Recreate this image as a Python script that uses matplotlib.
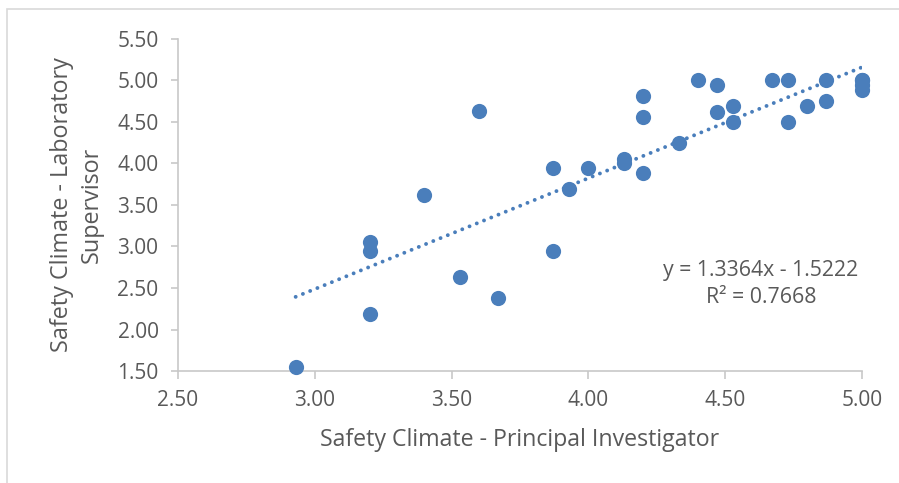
import numpy as np
import matplotlib.pyplot as plt
from matplotlib.patches import Rectangle

# Safety climate scores: principal investigator (x) vs laboratory supervisor (y)
pi_score = [2.93, 3.20, 3.20, 3.20, 3.40, 3.53, 3.60, 3.67, 3.87, 3.87,
            3.93, 4.00, 4.13, 4.13, 4.20, 4.20, 4.20, 4.33, 4.40, 4.47,
            4.47, 4.53, 4.53, 4.67, 4.73, 4.73, 4.80, 4.87, 4.87, 5.00,
            5.00, 5.00, 5.00]
ls_score = [1.55, 3.06, 2.94, 2.19, 3.62, 2.63, 4.63, 2.38, 3.94, 2.94,
            3.69, 3.94, 4.06, 4.00, 4.81, 4.56, 3.88, 4.25, 5.00, 4.94,
            4.62, 4.69, 4.50, 5.00, 5.00, 4.50, 4.69, 5.00, 4.75, 5.00,
            4.94, 4.88, 5.00]

# trendline from the chart label
slope = 1.3364
intercept = -1.5222
r2 = 0.7668

x_ticks = [2.50, 3.00, 3.50, 4.00, 4.50, 5.00]
y_ticks = [1.50, 2.00, 2.50, 3.00, 3.50, 4.00, 4.50, 5.00, 5.50]

txt = '#595959'
grey = '#c8c8c8'
blue = '#4a7ebb'
font = 'Open Sans'

fig = plt.figure(figsize=(8.99, 4.83), dpi=100)
fig.patches.append(Rectangle((7 / 899, -0.1), 2, 1.1 - 9 / 483, transform=fig.transFigure,
                             fill=False, edgecolor='#d9d9d9', linewidth=1.2))
ax = fig.add_axes([178 / 899, 1 - 371 / 483, 684 / 899, 332 / 483])

ax.scatter(pi_score, ls_score, s=120, color=blue, zorder=3, linewidths=0)

fit_x = np.array([min(pi_score), max(pi_score)])
fit_y = slope * fit_x + intercept
ax.plot(fit_x, fit_y, color=blue, linewidth=2.8, linestyle=(0, (0.01, 2.0)),
        dash_capstyle='round', zorder=2)

ax.set_xlim(2.5, 5.0)
ax.set_ylim(1.5, 5.5)
ax.set_xticks(x_ticks)
ax.set_yticks(y_ticks)
ax.set_xticklabels(['%.2f' % v for v in x_ticks])
ax.set_yticklabels(['%.2f' % v for v in y_ticks])

for s in ['top', 'right']:
    ax.spines[s].set_visible(False)
for s in ['left', 'bottom']:
    ax.spines[s].set_color(grey)
    ax.spines[s].set_linewidth(1.2)
    ax.spines[s].set_zorder(1)
ax.tick_params(axis='both', colors=grey, labelcolor=txt, labelsize=15, width=1.2)
ax.tick_params(axis='x', length=6, pad=8)
ax.tick_params(axis='y', length=5, pad=9)
for lab in ax.get_xticklabels() + ax.get_yticklabels():
    lab.set_fontfamily(font)
for c in ax.collections:
    c.set_clip_on(False)

ax.set_xlabel('Safety Climate - Principal Investigator', fontsize=16.7, color=txt,
              fontfamily=font, labelpad=12)
fig.text(77 / 899, 1 - 205 / 483, 'Safety Climate - Laboratory\nSupervisor',
         rotation=90, ha='center', va='center', fontsize=16.8, color=txt,
         fontfamily=font, linespacing=1.3, multialignment='center')

ax.text(4.631, 2.548, 'y = %.4fx - %.4f\nR² = %.4f' % (slope, -intercept, r2),
        ha='center', va='center', fontsize=15.3, color=txt, fontfamily=font,
        linespacing=1.35, multialignment='center')

plt.savefig('out.png', dpi=100)
